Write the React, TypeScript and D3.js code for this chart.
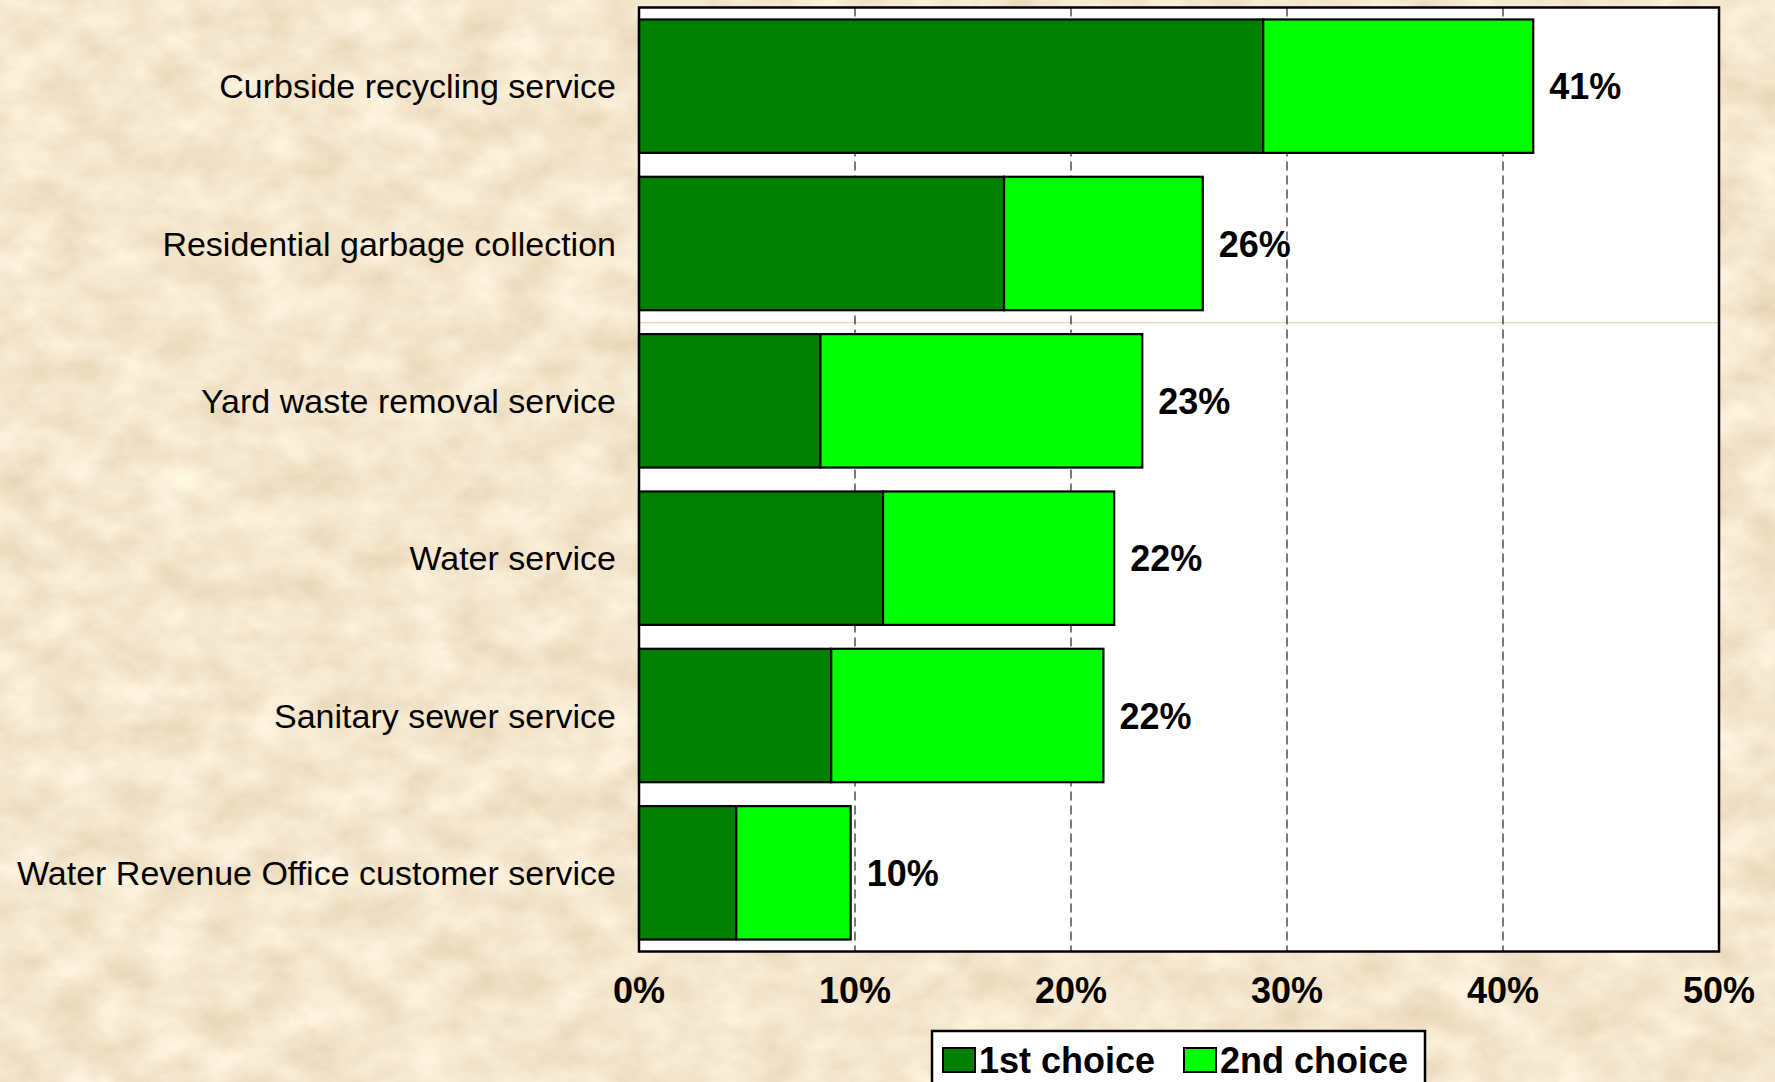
import React from "react";
import * as d3 from "d3";

const categories = [
  "Curbside recycling service",
  "Residential garbage collection",
  "Yard waste removal service",
  "Water service",
  "Sanitary sewer service",
  "Water Revenue Office customer service",
];
const firstChoice = [28.9, 16.9, 8.4, 11.3, 8.9, 4.5];
const secondChoice = [12.5, 9.2, 14.9, 10.7, 12.6, 5.3];
const totalLabels = ["41%", "26%", "23%", "22%", "22%", "10%"];
const xTicks = [0, 10, 20, 30, 40, 50];
const seriesNames = ["1st choice", "2nd choice"];
const seriesColors = ["#008000", "#00ff00"];

const W = 1775;
const H = 1082;
const plot = { left: 639, right: 1719, top: 7.5, bottom: 951.5 };

export default function App() {
  const x = d3.scaleLinear().domain([0, 50]).range([plot.left, plot.right]);
  const y = d3
    .scaleBand<string>()
    .domain(categories)
    .range([plot.top, plot.bottom])
    .paddingInner(0.152)
    .paddingOuter(0.076);

  const stackData = categories.map((c, i) => ({
    cat: c,
    first: firstChoice[i],
    second: secondChoice[i],
  }));
  const stacked = d3.stack<any>().keys(["first", "second"])(stackData);

  const font = "'Liberation Sans', Arial, Helvetica, sans-serif";

  return (
    <svg
      width={W}
      height={H}
      style={{ position: "absolute", left: 0, top: 0, display: "block" }}
    >
      <defs>
        <filter id="parch" x="0" y="0" width="100%" height="100%">
          <feTurbulence
            type="fractalNoise"
            baseFrequency="0.02 0.028"
            numOctaves="5"
            seed="7"
            result="n"
          />
          <feColorMatrix
            in="n"
            type="matrix"
            values="0.26 0 0 0 0.78  0.32 0 0 0 0.64  0.38 0 0 0 0.43  0 0 0 0 1"
          />
        </filter>
      </defs>
      <rect x={0} y={0} width={W} height={H} fill="#e8d3a5" />
      <rect x={0} y={0} width={W} height={H} filter="url(#parch)" />

      {/* plot area */}
      <rect
        x={plot.left}
        y={plot.top}
        width={plot.right - plot.left}
        height={plot.bottom - plot.top}
        fill="#ffffff"
      />
      {/* faint tan artifact line */}
      <line
        x1={plot.left}
        x2={plot.right}
        y1={322.7}
        y2={322.7}
        stroke="#e6d6b4"
        strokeWidth={1.2}
      />
      {/* gridlines */}
      {xTicks
        .filter((t) => t > 0 && t < 50)
        .map((t) => (
          <line
            key={t}
            x1={x(t)}
            x2={x(t)}
            y1={plot.top}
            y2={plot.bottom}
            stroke="#222"
            strokeWidth={1.2}
            strokeDasharray="9 5"
          />
        ))}

      {/* bars */}
      {stacked.map((s, si) =>
        s.map((d: any, i: number) => (
          <rect
            key={`${si}-${i}`}
            x={x(d[0])}
            y={y(categories[i])}
            width={x(d[1]) - x(d[0])}
            height={y.bandwidth()}
            fill={seriesColors[si]}
            stroke="#000"
            strokeWidth={2.2}
          />
        ))
      )}

      {/* value labels */}
      {stackData.map((d, i) => (
        <text
          key={i}
          x={x(d.first + d.second) + 16}
          y={(y(d.cat) as number) + y.bandwidth() / 2 + 13}
          fontFamily={font}
          fontWeight="bold"
          fontSize={36}
          fill="#000"
        >
          {totalLabels[i]}
        </text>
      ))}

      {/* plot frame */}
      <rect
        x={plot.left}
        y={plot.top}
        width={plot.right - plot.left}
        height={plot.bottom - plot.top}
        fill="none"
        stroke="#000"
        strokeWidth={2.5}
      />

      {/* category labels */}
      {categories.map((c) => (
        <text
          key={c}
          x={616}
          y={(y(c) as number) + y.bandwidth() / 2 + 12}
          textAnchor="end"
          fontFamily={font}
          fontSize={34}
          fill="#000"
        >
          {c}
        </text>
      ))}

      {/* x tick labels */}
      {xTicks.map((t) => (
        <text
          key={t}
          x={x(t)}
          y={1003}
          textAnchor="middle"
          fontFamily={font}
          fontWeight="bold"
          fontSize={36}
          fill="#000"
        >
          {`${t}%`}
        </text>
      ))}

      {/* legend */}
      <rect
        x={932}
        y={1031}
        width={493}
        height={80}
        fill="#ffffff"
        stroke="#000"
        strokeWidth={2.5}
      />
      {seriesNames.map((n, i) => {
        const sx = i === 0 ? 943 : 1184;
        return (
          <g key={n}>
            <rect
              x={sx}
              y={1048}
              width={32}
              height={24}
              fill={seriesColors[i]}
              stroke="#000"
              strokeWidth={2}
            />
            <text
              x={sx + 36}
              y={1073}
              fontFamily={font}
              fontWeight="bold"
              fontSize={36}
              fill="#000"
            >
              {n}
            </text>
          </g>
        );
      })}
    </svg>
  );
}
